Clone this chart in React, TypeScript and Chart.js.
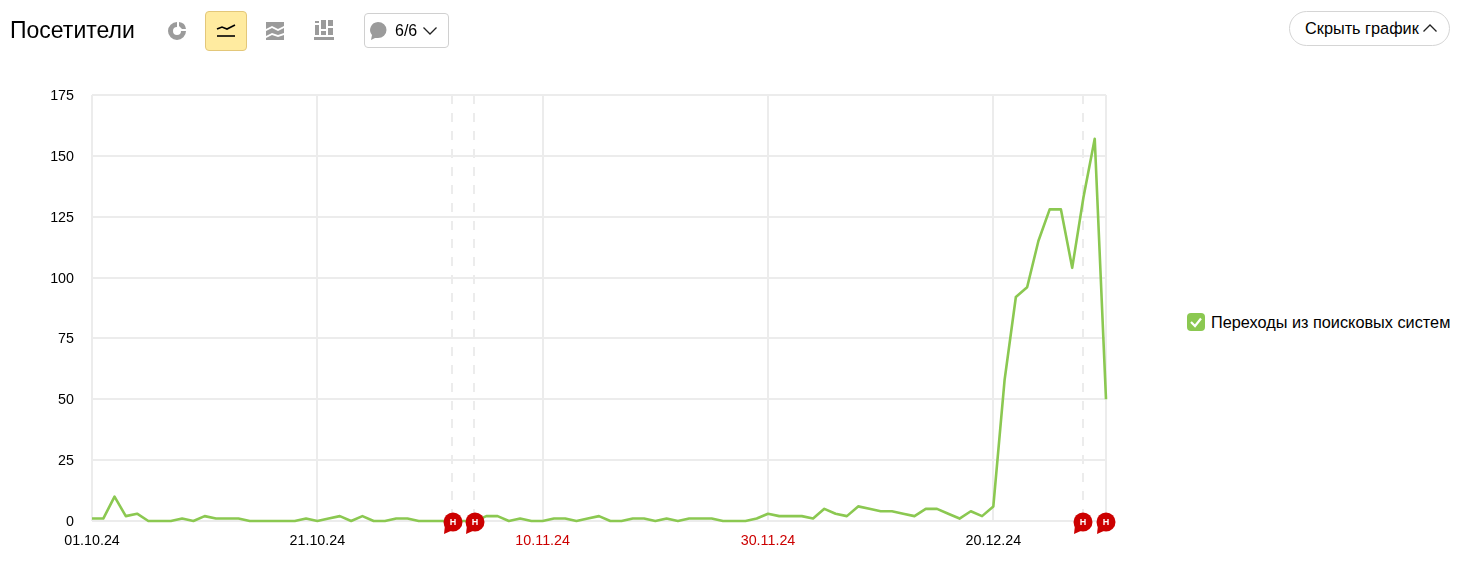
import React, { useEffect, useRef } from "react";
import { Chart, registerables } from "chart.js";

Chart.register(...registerables);

const startDate = [2024, 9, 1];
const visits = [
  1, 1, 10, 2, 3, 0, 0, 0, 1, 0,
  2, 1, 1, 1, 0, 0, 0, 0, 0, 1,
  0, 1, 2, 0, 2, 0, 0, 1, 1, 0,
  0, 0, 0, 0, 0, 2, 2, 0, 1, 0,
  0, 1, 1, 0, 1, 2, 0, 0, 1, 1,
  0, 1, 0, 1, 1, 1, 0, 0, 0, 1,
  3, 2, 2, 2, 1, 5, 3, 2, 6, 5,
  4, 4, 3, 2, 5, 5, 3, 1, 4, 2,
  6, 58, 92, 96, 115, 128, 128, 104, 133, 157,
  50,
];
const labelledDays = [0, 20, 40, 60, 80];
const redLabelDays = [40, 60];
const noteDays = [32, 34, 88, 90];
const yTicksMax = 175;
const yStep = 25;

const FONT = '"Liberation Sans", Arial, sans-serif';
const GREEN = "#8bc851";
const GRID = "#ececec";
const RED = "#cc0000";

const labels = visits.map((_, i) => {
  const d = new Date(startDate[0], startDate[1], startDate[2] + i);
  const p = (n: number) => String(n).padStart(2, "0");
  return `${p(d.getDate())}.${p(d.getMonth() + 1)}.${String(d.getFullYear()).slice(2)}`;
});

const notesPlugin = {
  id: "notes",
  beforeDatasetsDraw(chart: any) {
    const { ctx, chartArea, scales } = chart;
    ctx.save();
    ctx.strokeStyle = GRID;
    ctx.lineWidth = 2;
    ctx.setLineDash([9, 9]);
    noteDays.slice(0, 3).forEach((d) => {
      const x = Math.round(scales.x.getPixelForValue(d) - 0.6);
      ctx.beginPath();
      ctx.moveTo(x, chartArea.top);
      ctx.lineTo(x, chartArea.bottom);
      ctx.stroke();
    });
    ctx.setLineDash([]);
    const right = Math.round(scales.x.getPixelForValue(visits.length - 1));
    ctx.beginPath();
    ctx.moveTo(right, chartArea.top);
    ctx.lineTo(right, chartArea.bottom);
    ctx.stroke();
    ctx.restore();
  },
  afterDatasetsDraw(chart: any) {
    const { ctx, chartArea, scales } = chart;
    ctx.save();
    noteDays.forEach((d) => {
      const x = Math.round(scales.x.getPixelForValue(d));
      const y = chartArea.bottom + 1;
      ctx.fillStyle = RED;
      ctx.beginPath();
      ctx.arc(x, y, 9.5, 0, Math.PI * 2);
      ctx.fill();
      ctx.beginPath();
      ctx.moveTo(x - 8, y + 3);
      ctx.lineTo(x - 9, y + 12);
      ctx.lineTo(x, y + 8);
      ctx.closePath();
      ctx.fill();
      ctx.fillStyle = "#fff";
      ctx.font = `bold 9px ${FONT}`;
      ctx.textAlign = "center";
      ctx.textBaseline = "middle";
      ctx.fillText("Н", x, y + 1);
    });
    ctx.restore();
  },
};

const abs = (left: number, top: number, width: number, height: number): React.CSSProperties => ({
  position: "absolute",
  left,
  top,
  width,
  height,
  boxSizing: "border-box",
});

const text = (left: number, top: number, size: number, s: string) => (
  <div
    style={{
      position: "absolute",
      left,
      top,
      fontSize: size,
      lineHeight: "20px",
      fontFamily: FONT,
      color: "#000",
      whiteSpace: "nowrap",
    }}
  >
    {s}
  </div>
);

export default function App() {
  const ref = useRef<HTMLCanvasElement>(null);
  useEffect(() => {
    const chart = new Chart(ref.current as HTMLCanvasElement, {
      type: "line",
      plugins: [notesPlugin],
      data: {
        labels,
        datasets: [
          {
            data: visits,
            borderColor: GREEN,
            borderWidth: 2.6,
            borderJoinStyle: "round",
            pointRadius: 0,
            tension: 0,
            fill: false,
            clip: false,
          },
        ],
      },
      options: {
        animation: false,
        responsive: false,
        layout: { padding: { left: 0, right: 10, top: 95, bottom: 0 } },
        plugins: { legend: { display: false }, tooltip: { enabled: false } },
        scales: {
          x: {
            type: "category",
            offset: false,
            afterBuildTicks: (axis: any) => {
              axis.ticks = labelledDays.map((d) => ({ value: d }));
            },
            afterFit: (axis: any) => {
              axis.height = 45;
            },
            border: { display: false },
            grid: { color: GRID, lineWidth: 2, drawTicks: false },
            ticks: {
              autoSkip: false,
              maxRotation: 0,
              padding: 11,
              font: { family: FONT, size: 14.3 },
              color: (c: any) =>
                redLabelDays.includes(labelledDays[c.index]) ? RED : "#000",
            },
          },
          y: {
            min: 0,
            max: yTicksMax,
            afterFit: (axis: any) => {
              axis.width = 92;
            },
            border: { display: false },
            grid: { color: GRID, lineWidth: 2, drawTicks: false },
            ticks: {
              stepSize: yStep,
              padding: 18,
              labelOffset: 1,
              font: { family: FONT, size: 14.3 },
              color: "#000",
            },
          },
        },
      },
    } as any);
    return () => chart.destroy();
  }, []);

  return (
    <div style={{ position: "absolute", left: 0, top: 0, width: 1466, height: 566, background: "#fff", overflow: "hidden" }}>
      <canvas ref={ref} width={1116} height={566} style={{ position: "absolute", left: 0, top: 0, width: 1116, height: 566 }} />
      {text(10, 20, 23, "Посетители")}

      <svg style={abs(167, 21, 20, 20)} viewBox="0 0 20 20">
        <path d="M10 1a9 9 0 1 0 9 9h-5a4 4 0 1 1-4-4z" fill="#9b9b9b" />
        <path d="M12 1a8 8 0 0 1 7 7h-4l-3-3z" fill="#9b9b9b" />
      </svg>

      <div style={{ ...abs(205, 11, 42, 40), background: "#ffeba0", border: "1px solid #e3c77a", borderRadius: 4 }} />
      <svg style={abs(216, 22, 20, 20)} viewBox="0 0 20 20">
        <path d="M1 7 L6 5 L11 7 L19 3" fill="none" stroke="#000" strokeWidth="1.6" />
        <path d="M1 14 H19" stroke="#000" strokeWidth="1.6" />
      </svg>

      <svg style={abs(266, 22, 18, 18)} viewBox="0 0 18 18">
        <path d="M0 0 H18 V4 L12 7 L6 4 L0 7 Z" fill="#9b9b9b" />
        <path d="M0 9 L6 6 L12 9 L18 6 V11 L12 13 L6 11 L0 14 Z" fill="#9b9b9b" />
        <path d="M0 16 L6 13 L12 15 L18 13 V18 H0 Z" fill="#9b9b9b" />
      </svg>

      <svg style={abs(314, 20, 20, 20)} viewBox="0 0 20 20">
        <path d="M1 5 H5 V15 H1 Z M1 1 H5 V3 H1 Z M7 0 H12 V9 H7 Z M7 11 H12 V15 H7 Z M14 0 H19 V6 H14 Z M14 8 H19 V15 H14 Z M0 17 H20 V20 H0 Z" fill="#9b9b9b" />
      </svg>

      <div style={{ ...abs(364, 13, 85, 35), border: "1px solid #d0d0d0", borderRadius: 4 }} />
      <svg style={abs(368, 21, 20, 20)} viewBox="0 0 20 20">
        <path d="M10 1a8.5 8 0 0 1 0 16 H7 L3 19 L4 14 A8.5 8 0 0 1 10 1z" fill="#9b9b9b" />
      </svg>
      {text(395, 21, 16, "6/6")}
      <svg style={abs(422, 25, 16, 12)} viewBox="0 0 16 12">
        <path d="M1.5 2.5 L8 9 L14.5 2.5" fill="none" stroke="#222" strokeWidth="1.3" />
      </svg>

      <div style={{ ...abs(1289, 11, 161, 35), border: "1px solid #d5d5d5", borderRadius: 18 }} />
      {text(1305, 18, 16.3, "Скрыть график")}
      <svg style={abs(1422, 22, 16, 12)} viewBox="0 0 16 12">
        <path d="M1.5 9.5 L8 3 L14.5 9.5" fill="none" stroke="#222" strokeWidth="1.3" />
      </svg>

      <div style={{ ...abs(1187, 313, 18, 18), background: GREEN, borderRadius: 4 }} />
      <svg style={abs(1187, 313, 18, 18)} viewBox="0 0 18 18">
        <path d="M4 9 L8 13 L14 5.5" fill="none" stroke="#fff" strokeWidth="2.2" />
      </svg>
      {text(1211, 312, 16.3, "Переходы из поисковых систем")}
    </div>
  );
}
